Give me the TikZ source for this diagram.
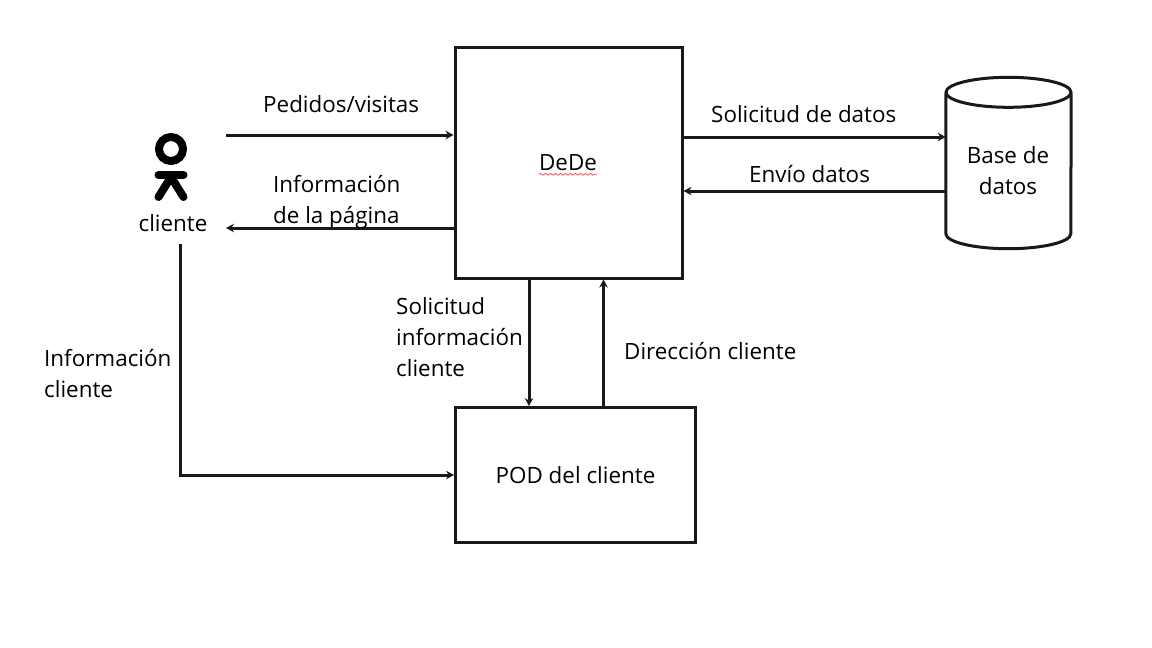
\documentclass[tikz,border=0pt]{standalone}
\usepackage{fontspec}
\setmainfont{Open Sans}
\usetikzlibrary{arrows.meta,positioning,decorations.pathmorphing}

\tikzset{
	caja/.style={draw=black!90, line width=3pt},
	flecha/.style={draw=black!90, line width=3pt, -{Stealth[length=8pt,width=8.5pt]}},
	icono/.style={draw=black, line width=8pt, line cap=round},
	etiqueta/.style={font=\fontsize{22.4}{31}\selectfont, align=left, inner sep=0pt},
	etiquetac/.style={etiqueta, align=center}
}

\begin{document}
\begin{tikzpicture}[x=1pt,y=-1pt]
	\useasboundingbox (0,0) rectangle (1152,648);
	
	% cajas
	\node[caja, minimum width=227pt, minimum height=231pt] (dede) at (568.5,162.5) {};
	\node[etiquetac] (dedetxt) at (568,163) {DeDe};
	\node[caja, etiquetac, minimum width=240pt, minimum height=135pt] (pod) at (575.5,475) {POD del cliente};
	
	% base de datos
	\node[minimum width=125pt, minimum height=171pt, inner sep=0pt] (base) at (1008.5,163) {};
	\node[etiquetac] (basetxt) at (1008,171) {Base de\\datos};
	\draw[caja] ([yshift=-15pt]base.north) ellipse (62.5pt and 15pt);
	\draw[caja] ([yshift=-16pt]base.north west) -- ([yshift=15pt]base.south west)
		arc (180:360:62.5pt and 15pt) -- ([yshift=-16pt]base.north east);
	
	% subrayado rojo
	\draw[red!70, line width=0.8pt, decorate, decoration={snake, amplitude=0.9pt, segment length=5pt}]
		(dedetxt.south west) ++(0,3) coordinate (subA) -- ++(58,0) coordinate (subB);
	
	% cliente
	\draw[icono] (171,149) circle (12pt);
	\draw[icono] (158.5,175) -- (183.5,175);
	\draw[icono] (171,177) -- (158.5,197);
	\draw[icono] (171,177) -- (183.5,197);
	\node[etiquetac] (cliente) at (173,223) {cliente};
	\coordinate (clienteA) at (226,135);
	\coordinate (clienteB) at (226,228);
	\coordinate (clienteC) at (180,244);
	
	% conectores
	\draw[flecha] (clienteA) -- ([yshift=27.5pt]dede.west);
	\draw[flecha] ([yshift=-65.5pt]dede.west) -- (clienteB);
	\draw[flecha] ([yshift=25.5pt]dede.east) -- ([yshift=26pt]base.west);
	\draw[flecha] ([yshift=-28pt]base.west) -- ([yshift=-28.5pt]dede.east);
	\draw[flecha] ([xshift=-39.5pt]dede.south) -- ([xshift=-46.5pt]pod.north);
	\draw[flecha] ([xshift=28pt]pod.north) -- ([xshift=35pt]dede.south);
	\draw[flecha] (clienteC) |- (pod.west);
	
	% textos
	\node[etiqueta, anchor=west] (pedidos) at (263,104) {Pedidos/visitas};
	\node[etiqueta, anchor=west] (infopag) at (273,202) {Información\\de la página};
	\node[etiqueta, anchor=west] (soldatos) at (711,114) {Solicitud de datos};
	\node[etiqueta, anchor=west] (envio) at (749,174) {Envío datos};
	\node[etiqueta, anchor=west] (solinfo) at (396,337) {Solicitud\\información\\cliente};
	\node[etiqueta, anchor=west] (direccion) at (624,351) {Dirección cliente};
	\node[etiqueta, anchor=west] (infocli) at (44,374) {Información\\cliente};
\end{tikzpicture}
\end{document}
